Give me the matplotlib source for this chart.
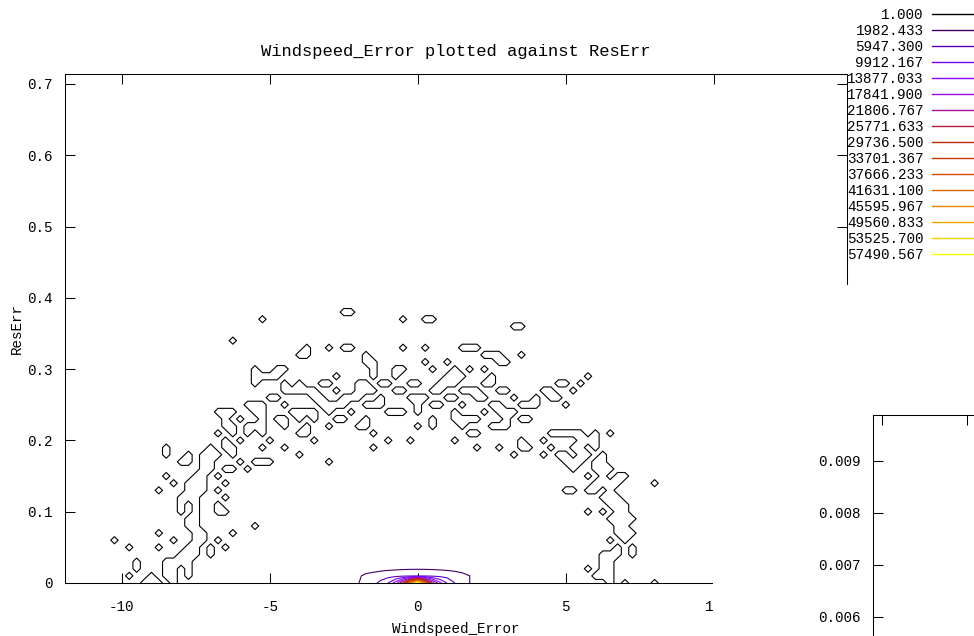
import numpy as np
import matplotlib
matplotlib.use("Agg")
import matplotlib.pyplot as plt
from matplotlib.lines import Line2D
from matplotlib.patches import Rectangle

plt.rcParams['font.family'] = ['Liberation Mono', 'DejaVu Sans Mono']
plt.rcParams['font.size'] = 10.3
plt.rcParams['axes.unicode_minus'] = False

title = "Windspeed_Error plotted against ResErr"
x_label = "Windspeed_Error"
y_label = "ResErr"

levels = [1.000, 1982.433, 5947.300, 9912.167, 13877.033, 17841.900, 21806.767,
          25771.633, 29736.500, 33701.367, 37666.233, 41631.100, 45595.967,
          49560.833, 53525.700, 57490.567]
x_ticks = [-10, -5, 0, 5, 10]
y_ticks = [0, 0.1, 0.2, 0.3, 0.4, 0.5, 0.6, 0.7]
inset_y_ticks = [0.006, 0.007, 0.008, 0.009]
inset_x_ticks = [0, 1, 2]

# sparse histogram bins (ResErr row -> Windspeed_Error bins with a count)
band_y = [0.38, 0.37, 0.36, 0.35, 0.34, 0.33, 0.32, 0.31, 0.30, 0.29, 0.28, 0.27,
          0.26, 0.25, 0.24, 0.23, 0.22, 0.21, 0.20, 0.19, 0.18, 0.17, 0.16, 0.15,
          0.14, 0.13, 0.12, 0.11, 0.10, 0.09, 0.08, 0.07, 0.06, 0.05, 0.04, 0.03,
          0.02, 0.01, 0.00]
band_x = [
    [-2.5, -2.25],
    [-5.25, -0.5, 0.25, 0.5],
    [3.25, 3.5],
    [],
    [-6.25],
    [-3.75, -3.0, -2.5, -2.25, -0.5, 0.25, 1.5, 1.75, 2.0],
    [-4.0, -3.75, -1.75, 2.25, 2.5, 2.75, 3.5],
    [-1.75, -1.5, 0.25, 1.0, 2.75, 3.0],
    [-5.5, -4.75, -4.5, -1.5, -0.75, -0.5, 0.5, 1.25, 1.75, 2.25],
    [-5.5, -5.25, -5.0, -4.75, -2.75, -1.5, -0.75, 1.0, 1.25, 1.5, 2.5, 5.75],
    [-5.5, -4.5, -4.0, -3.25, -3.0, -2.0, -1.75, -1.25, -1.0, -0.25, 0.0, 0.75,
     1.0, 1.25, 2.25, 2.5, 4.75, 5.0, 5.5],
    [-4.5, -4.25, -4.0, -3.75, -3.5, -2.75, -2.0, -1.75, -1.5, -0.75, -0.5, 0.5,
     0.75, 1.5, 1.75, 2.0, 2.75, 3.0, 4.25, 4.5, 5.25],
    [-5.0, -4.75, -3.5, -3.25, -2.5, -2.25, -2.0, -1.25, -0.25, 0.0, 0.25, 1.0,
     1.25, 2.0, 2.25, 3.25, 4.0, 4.5, 4.75],
    [-5.75, -5.5, -5.25, -4.5, -3.25, -3.0, -2.75, -2.5, -1.75, -1.5, -1.25, 0.0,
     0.5, 0.75, 1.5, 2.5, 2.75, 3.5, 3.75, 4.0, 5.0],
    [-6.75, -6.5, -6.25, -5.5, -5.25, -4.25, -4.0, -3.75, -3.5, -3.0, -2.25, -1.0,
     -0.75, -0.5, 0.0, 1.25, 2.25, 2.75, 3.0, 3.25],
    [-6.5, -6.0, -5.25, -4.75, -4.5, -4.0, -3.5, -2.75, -2.5, -1.75, 0.5, 1.25,
     1.5, 1.75, 2.0, 3.0, 3.5, 3.75],
    [-6.5, -6.25, -5.75, -5.5, -5.25, -4.5, -3.75, -3.0, -2.0, -1.75, 0.0, 0.5,
     1.5, 2.5, 2.75, 3.0],
    [-6.75, -6.25, -5.75, -5.25, -4.0, -3.75, -1.5, 1.75, 2.0, 4.5, 4.75, 5.0,
     5.25, 5.5, 6.0, 6.5],
    [-6.5, -6.0, -5.0, -3.5, -1.0, -0.25, 1.25, 3.5, 4.25, 5.5, 5.75, 6.0],
    [-8.5, -7.0, -6.5, -6.25, -5.25, -4.5, -1.5, 2.0, 2.75, 3.5, 3.75, 4.5, 5.25,
     5.5, 6.0],
    [-8.5, -7.75, -7.25, -7.0, -6.75, -6.25, -4.0, 3.25, 4.25, 4.75, 5.0, 5.5,
     5.75, 6.25],
    [-8.0, -7.75, -7.25, -7.0, -6.0, -5.5, -5.25, -5.0, -3.0, 5.0, 5.25, 5.5, 6.0,
     6.25],
    [-7.25, -7.0, -6.5, -6.25, -5.75, 5.25, 6.0, 6.25, 6.5],
    [-8.5, -7.5, -7.25, -6.75, 5.75, 6.25, 6.75, 7.0],
    [-8.25, -7.75, -7.5, -7.25, -6.5, 6.0, 6.25, 6.5, 6.75, 8.0],
    [-8.75, -7.75, -7.5, -7.25, -6.75, 5.0, 5.25, 5.75, 6.0, 6.5],
    [-8.0, -7.75, -7.5, -6.5, 6.25, 6.5, 6.75],
    [-8.0, -7.5, -6.75, 6.5, 6.75, 7.0],
    [-8.0, -7.5, -6.75, -6.5, 5.75, 6.25, 6.75, 7.0],
    [-7.75, -7.5, 6.5, 6.75, 7.0, 7.25],
    [-7.75, -7.5, -5.5, 6.75, 7.0],
    [-8.75, -7.5, -7.25, -6.25, 6.75, 7.0, 7.25],
    [-10.25, -8.25, -7.5, -7.25, -6.75, 6.5, 7.0],
    [-9.75, -8.75, -7.75, -7.5, -7.0, -6.5, 6.75, 7.25],
    [-8.0, -7.75, -7.5, -7.0, 6.25, 6.5, 6.75, 7.25],
    [-9.5, -8.5, -8.25, -8.0, -7.75, 6.25, 6.5],
    [-9.5, -8.5, -8.25, -7.75, 5.75, 6.25, 6.5],
    [-9.75, -9.0, -8.5, -8.25, -7.75, 6.0, 6.25, 6.5],
    [-9.25, -9.0, -8.75, -8.25, 6.5, 7.0, 8.0],
]
band_count = 2

# central peak of the histogram
peak_x = [-2.5, -2.25, -2.0, -1.75, -1.5, -1.25, -1.0, -0.75, -0.5, -0.25, 0.0,
          0.25, 0.5, 0.75, 1.0, 1.25, 1.5, 1.75, 2.0, 2.25, 2.5]
peak_y = [0.0, 0.01, 0.02, 0.03]
peak_counts = [
    [0, 300, 1900, 3500, 5000, 7000, 10000, 16000, 26000, 45000, 61000,
     42000, 24000, 15000, 9500, 6000, 4000, 2000, 600, 100, 0],
    [0, 200, 1500, 2800, 3500, 4100, 4600, 4900, 5200, 5400, 5500,
     5400, 5200, 4900, 4500, 3900, 3100, 2000, 900, 100, 0],
    [0, 0, 0, 200, 500, 900, 1200, 1400, 1550, 1650, 1700,
     1650, 1550, 1400, 1200, 900, 500, 100, 0, 0, 0],
    [0] * 21,
]


def gnuplot_color(t):
    # default gnuplot palette (rgbformulae 7,5,15)
    r = np.sqrt(t)
    g = t ** 3
    b = max(0.0, np.sin(2 * np.pi * t))
    return (r, g, b)


colors = [gnuplot_color(i / (len(levels) - 1)) for i in range(len(levels))]

W, H = 974, 636
fig = plt.figure(figsize=(W / 100, H / 100), dpi=100)


def px_axes(left, top, right, bottom, **kw):
    return fig.add_axes([left / W, 1 - bottom / H, (right - left) / W, (bottom - top) / H], **kw)


ax = px_axes(65, 74, 847, 583)

# band of low counts
gx = np.arange(-11, 9.001, 0.25)
gy = np.arange(0, 0.3901, 0.01)
grid = np.zeros((len(gy), len(gx)))
for yv, xs in zip(band_y, band_x):
    j = int(round(yv / 0.01))
    for xv in xs:
        i = int(round((xv + 11) / 0.25))
        grid[j, i] = band_count
ax.contour(gx, gy, grid, levels=[levels[0]], colors=[colors[0]], linewidths=0.8)

ax.contour(peak_x, peak_y, np.array(peak_counts, dtype=float), levels=levels[1:],
           colors=colors[1:], linewidths=0.8)

ax.set_xlim(-11.92, 14.5)
ax.set_ylim(0, 0.714)
ax.set_xticks(x_ticks)
ax.set_yticks(y_ticks)
ax.set_xticklabels(['%g' % v for v in x_ticks])
ax.set_yticklabels(['%g' % v for v in y_ticks])
ax.tick_params(direction='in', length=7, width=0.75, top=True, right=True, pad=12)
ax.tick_params(axis='y', pad=9)
for s in ax.spines.values():
    s.set_linewidth(0.75)
ax.set_title(title, pad=13)
ax.set_xlabel(x_label, labelpad=6)
ax.set_ylabel(y_label, labelpad=2)

# white panel covering the lower right corner
fig.add_artist(Rectangle((713 / W, -0.1), 1, (636 - 285) / H + 0.1,
                         transform=fig.transFigure, facecolor='white',
                         edgecolor='none', zorder=1))

# second panel peeking in from the lower right
ax2 = px_axes(873, 415, 1073, 648)
ax2.set_zorder(2)
ax2.set_xlim(-0.106, 2.247)
ax2.set_ylim(0.0054, 0.00988)
ax2.set_xticks(inset_x_ticks)
ax2.set_yticks(inset_y_ticks)
ax2.set_yticklabels(['%.3f' % v for v in inset_y_ticks])
ax2.tick_params(direction='in', length=7, width=0.75, top=True, right=True, pad=9,
                labelbottom=False)
for s in ax2.spines.values():
    s.set_linewidth(0.75)

handles = [Line2D([], [], color=c, lw=1.0) for c in colors]
labels = ['%.3f' % v for v in levels]
fig.legend(handles, labels, loc='upper left', bbox_to_anchor=(847 / W, 1 - 8 / H),
           frameon=False, markerfirst=False, handlelength=2.9, handletextpad=0.6,
           labelspacing=0.14, borderpad=0, borderaxespad=0)

fig.savefig('out.png', dpi=100)
